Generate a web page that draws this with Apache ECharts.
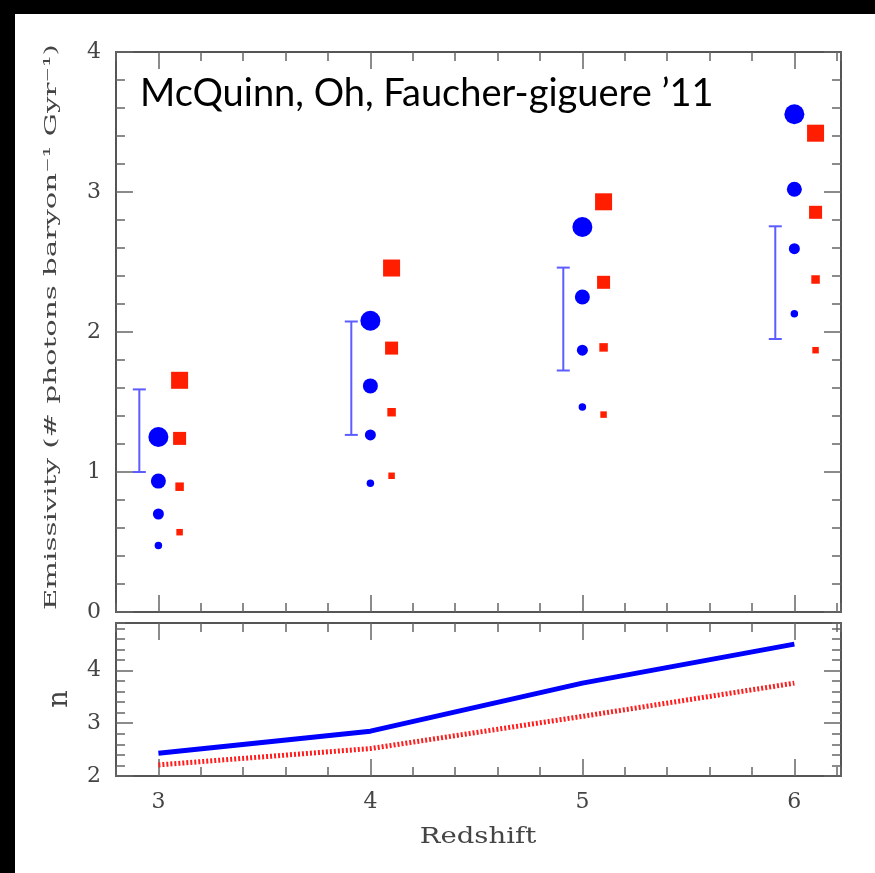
<!DOCTYPE html>
<html>
<head>
<meta charset="utf-8">
<script src="https://cdn.jsdelivr.net/npm/echarts@6/dist/echarts.min.js"></script>
<style>
html,body{margin:0;padding:0;background:#fff;overflow:hidden;width:875px;height:873px;}
#chart{position:absolute;left:0;top:0;width:875px;height:873px;}
#bt{position:absolute;left:0;top:0;width:875px;height:14px;background:#000;z-index:5;}
#bl{position:absolute;left:0;top:0;width:15px;height:873px;background:#000;z-index:5;}
#wr{position:absolute;left:850px;top:14px;width:25px;height:859px;background:#fff;z-index:4;}
#wb{position:absolute;left:15px;top:850px;width:860px;height:23px;background:#fff;z-index:4;}
</style>
</head>
<body>
<div id="chart"></div>
<div id="wr"></div>
<div id="wb"></div>
<div id="bt"></div>
<div id="bl"></div>
<script>
// ---- data ----
const redshift = [3, 4, 5, 6];
const blueLarge = [1.25, 2.08, 2.75, 3.555];
const blueMed   = [0.935, 1.615, 2.25, 3.02];
const blueSmall = [0.70, 1.265, 1.87, 2.595];
const blueTiny  = [0.475, 0.92, 1.465, 2.13];
const redLarge  = [1.655, 2.457, 2.93, 3.42];
const redMed    = [1.24, 1.885, 2.355, 2.855];
const redSmall  = [0.895, 1.427, 1.89, 2.375];
const redTiny   = [0.57, 0.973, 1.41, 1.87];
const errLow    = [1.00, 1.265, 1.725, 1.95];
const errHigh   = [1.59, 2.075, 2.46, 2.755];
const nBlue     = [2.43, 2.85, 3.76, 4.50];
const nRed      = [2.21, 2.52, 3.13, 3.76];
const xTickLabels = [3, 4, 5, 6];
const yTickLabelsTop = [0, 1, 2, 3, 4];
const yTickLabelsBottom = [2, 3, 4];

const titleText = "McQuinn, Oh, Faucher-giguere \u201911";
const yTitleTop = "Emissivity (# photons baryon\u207B\u00B9 Gyr\u207B\u00B9)";
const yTitleBottom = "n";
const xTitle = "Redshift";

// ---- styling ----
const frameColor = '#555';
const tickColor = '#666';
const labelColor = '#444';
const serif = '"DejaVu Serif", serif';

const chart = echarts.init(document.getElementById('chart'), null, {renderer: 'canvas'});

function xAxisDef(grid, pos, major, showLabels) {
  return {
    type: 'value', gridIndex: grid, position: pos, min: 2.8, max: 6.22,
    interval: major ? 1 : 0.2,
    axisLine: {show: major, onZero: false, lineStyle: {color: frameColor, width: 2}},
    axisTick: major
      ? {show: true, inside: true, length: 17, customValues: xTickLabels, lineStyle: {color: tickColor, width: 1.5}}
      : {show: true, inside: true, length: 9, lineStyle: {color: tickColor, width: 1.5}},
    axisLabel: showLabels
      ? {show: true, customValues: xTickLabels, margin: 15, fontFamily: serif, fontSize: 22, color: labelColor}
      : {show: false},
    splitLine: {show: false}
  };
}
function yAxisDef(grid, pos, major, min, max, ticks, showLabels) {
  return {
    type: 'value', gridIndex: grid, position: pos, min: min, max: max,
    interval: major ? 1 : 0.2,
    axisLine: {show: major, onZero: false, lineStyle: {color: frameColor, width: 2}},
    axisTick: major
      ? {show: true, inside: true, length: 17, customValues: ticks, lineStyle: {color: tickColor, width: 1.5}}
      : {show: true, inside: true, length: 9, lineStyle: {color: tickColor, width: 1.5}},
    axisLabel: showLabels
      ? {show: true, customValues: ticks, margin: 15, fontFamily: serif, fontSize: 22, color: labelColor}
      : {show: false},
    splitLine: {show: false}
  };
}

const xAxes = [
  xAxisDef(0, 'bottom', true, false),   // 0
  xAxisDef(0, 'bottom', false, false),  // 1
  xAxisDef(0, 'top', true, false),      // 2
  xAxisDef(0, 'top', false, false),     // 3
  xAxisDef(1, 'bottom', true, true),    // 4
  xAxisDef(1, 'bottom', false, false),  // 5
  xAxisDef(1, 'top', true, false),      // 6
  xAxisDef(1, 'top', false, false)      // 7
];
const yAxes = [
  yAxisDef(0, 'left', true, 0, 4, yTickLabelsTop, true),      // 0
  yAxisDef(0, 'left', false, 0, 4, null, false),              // 1
  yAxisDef(0, 'right', true, 0, 4, yTickLabelsTop, false),    // 2
  yAxisDef(0, 'right', false, 0, 4, null, false),             // 3
  yAxisDef(1, 'left', true, 2, 4.9, yTickLabelsBottom, true), // 4
  yAxisDef(1, 'left', false, 2, 4.9, null, false),            // 5
  yAxisDef(1, 'right', true, 2, 4.9, yTickLabelsBottom, false), // 6
  yAxisDef(1, 'right', false, 2, 4.9, null, false)            // 7
];

const blueSets = [[blueLarge, 20], [blueMed, 15], [blueSmall, 11], [blueTiny, 7.5]];
const redSets = [[redLarge, 17], [redMed, 13], [redSmall, 8.5], [redTiny, 6.5]];
const redOffset = 0.1, errOffset = -0.09;

const series = [];
blueSets.forEach(([vals, size]) => {
  series.push({
    type: 'scatter', xAxisIndex: 0, yAxisIndex: 0, symbol: 'circle', symbolSize: size,
    itemStyle: {color: '#0000ff', opacity: 1},
    data: redshift.map((z, i) => [z, vals[i]])
  });
});
redSets.forEach(([vals, size]) => {
  series.push({
    type: 'scatter', xAxisIndex: 0, yAxisIndex: 0, symbol: 'rect', symbolSize: size,
    itemStyle: {color: '#ff1e00', opacity: 1},
    data: redshift.map((z, i) => [z + redOffset, vals[i]])
  });
});
series.push({
  type: 'custom', xAxisIndex: 0, yAxisIndex: 0,
  encode: {x: 0, y: [1, 2]},
  data: redshift.map((z, i) => [z + errOffset, errLow[i], errHigh[i]]),
  renderItem: function (params, api) {
    const x = api.value(0);
    const lo = api.coord([x, api.value(1)]);
    const hi = api.coord([x, api.value(2)]);
    const hw = 6.5;
    const st = {stroke: '#5c5cff', lineWidth: 2};
    return {
      type: 'group',
      children: [
        {type: 'line', shape: {x1: lo[0], y1: lo[1], x2: hi[0], y2: hi[1]}, style: st},
        {type: 'line', shape: {x1: lo[0] - hw, y1: lo[1], x2: lo[0] + hw, y2: lo[1]}, style: st},
        {type: 'line', shape: {x1: hi[0] - hw, y1: hi[1], x2: hi[0] + hw, y2: hi[1]}, style: st}
      ]
    };
  }
});
series.push({
  type: 'line', xAxisIndex: 4, yAxisIndex: 4, showSymbol: false, symbol: 'none',
  lineStyle: {color: '#0000ff', width: 5},
  data: redshift.map((z, i) => [z, nBlue[i]])
});
series.push({
  type: 'line', xAxisIndex: 4, yAxisIndex: 4, showSymbol: false, symbol: 'none',
  lineStyle: {color: '#ff1e1e', width: 5, type: [2, 2], cap: 'butt'},
  data: redshift.map((z, i) => [z, nRed[i]])
});

const option = {
  animation: false,
  backgroundColor: '#ffffff',
  grid: [
    {left: 116, top: 52, width: 725, height: 560},
    {left: 116, top: 623, width: 725, height: 153}
  ],
  xAxis: xAxes,
  yAxis: yAxes,
  series: series,
  graphic: [
    {type: 'text', z: 50, x: 140, y: 94,
     style: {text: titleText, font: '38px Lato', fill: '#000', align: 'left', verticalAlign: 'middle'}},
    {type: 'text', z: 50, x: 52, y: 327, rotation: Math.PI / 2, scaleX: 1.72, scaleY: 1,
     style: {text: yTitleTop, font: '17px "DejaVu Serif"', fill: labelColor, align: 'center', verticalAlign: 'middle'}},
    {type: 'text', z: 50, x: 60, y: 699, rotation: Math.PI / 2,
     style: {text: yTitleBottom, font: '27px "DejaVu Serif"', fill: labelColor, align: 'center', verticalAlign: 'middle'}},
    {type: 'text', z: 50, x: 478, y: 837, scaleX: 1.25,
     style: {text: xTitle, font: '22px "DejaVu Serif"', fill: labelColor, align: 'center', verticalAlign: 'middle'}}
  ]
};
chart.setOption(option);
</script>
</body>
</html>
